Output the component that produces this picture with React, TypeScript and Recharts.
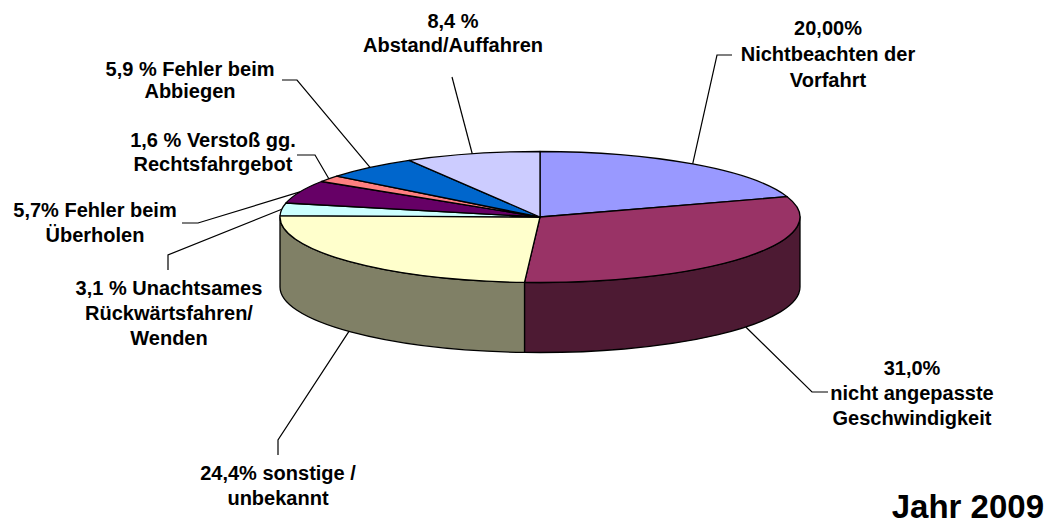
import { Cell, Pie, PieChart } from "recharts";

const categories = [
  "Nichtbeachten der Vorfahrt",
  "nicht angepasste Geschwindigkeit",
  "sonstige / unbekannt",
  "Unachtsames Rückwärtsfahren/Wenden",
  "Fehler beim Überholen",
  "Verstoß gg. Rechtsfahrgebot",
  "Fehler beim Abbiegen",
  "Abstand/Auffahren",
];
const shares = [20.0, 31.0, 24.4, 3.1, 5.7, 1.6, 5.9, 8.4];
const labelTexts = [
  ["20,00%", "Nichtbeachten der", "Vorfahrt"],
  ["31,0%", "nicht angepasste", "Geschwindigkeit"],
  ["24,4% sonstige /", "unbekannt"],
  ["3,1 % Unachtsames", "Rückwärtsfahren/", "Wenden"],
  ["5,7% Fehler beim", "Überholen"],
  ["1,6 % Verstoß gg.", "Rechtsfahrgebot"],
  ["5,9 % Fehler beim", "Abbiegen"],
  ["8,4 %", "Abstand/Auffahren"],
];
const colors = [
  "#9999FF",
  "#993366",
  "#FFFFCC",
  "#CCFFFF",
  "#660066",
  "#FF8080",
  "#0066CC",
  "#CCCCFF",
];

const data = categories.map((name, i) => ({ name, value: shares[i] }));

// layout of the pseudo-3D pie
const TILT = 0.252;
const DEPTH = 70;
const RAD = Math.PI / 180;
const FONT = "'Liberation Sans', Arial, sans-serif";

// leader line bends and text anchors, one per slice
const labelLayout = [
  { path: [[717, 55], [732, 55]], x: 828, y: 35, lh: 26 },
  { path: [[812, 392], [828, 392]], x: 912, y: 375, lh: 25 },
  { path: [[278, 440], [278, 455]], x: 278, y: 480, lh: 25 },
  { path: [[168, 255], [168, 270]], x: 169, y: 295, lh: 25 },
  { path: [[198, 223], [182, 223]], x: 95, y: 217, lh: 25 },
  { path: [[315, 155], [297, 155]], x: 213, y: 147, lh: 24 },
  { path: [[297, 80], [282, 80]], x: 190, y: 76, lh: 22 },
  { path: [[452, 77]], x: 453, y: 28, lh: 24 },
];

const darken = (hex: string) => {
  const n = parseInt(hex.slice(1), 16);
  const r = Math.round(((n >> 16) & 255) / 2);
  const g = Math.round(((n >> 8) & 255) / 2);
  const b = Math.round((n & 255) / 2);
  return `rgb(${r},${g},${b})`;
};

const point = (cx: number, cy: number, r: number, a: number, dy = 0) => [
  cx + r * Math.cos(a * RAD),
  cy - r * TILT * Math.sin(a * RAD) + dy,
];

function Slice3D(props: any) {
  const { cx, cy, outerRadius: r, startAngle, endAngle, fill } = props;
  const ry = r * TILT;
  const s = Math.max(startAngle, endAngle);
  const e = Math.min(startAngle, endAngle);
  const [x1, y1] = point(cx, cy, r, s);
  const [x2, y2] = point(cx, cy, r, e);
  const large = s - e > 180 ? 1 : 0;
  const top = `M${cx},${cy} L${x1},${y1} A${r},${ry} 0 ${large} 1 ${x2},${y2} Z`;

  const sides: string[] = [];
  for (let k = -1; k <= 1; k++) {
    const hi = Math.min(s, k * 360);
    const lo = Math.max(e, k * 360 - 180);
    if (hi - lo > 0.01) {
      const [a1, b1] = point(cx, cy, r, hi);
      const [a2, b2] = point(cx, cy, r, lo);
      sides.push(
        `M${a1},${b1} A${r},${ry} 0 0 1 ${a2},${b2} L${a2},${b2 + DEPTH} A${r},${ry} 0 0 0 ${a1},${b1 + DEPTH} Z`
      );
    }
  }

  return (
    <g>
      {sides.map((d, i) => (
        <path key={i} d={d} fill={darken(fill)} stroke="#000" strokeWidth={1.3} strokeLinejoin="round" />
      ))}
      <path d={top} fill={fill} stroke="#000" strokeWidth={1.3} strokeLinejoin="round" />
    </g>
  );
}

const renderLabel = (props: any) => {
  const { cx, cy, outerRadius: r, midAngle, index } = props;
  const front = Math.sin(midAngle * RAD) < 0;
  const start = point(cx, cy, r, midAngle, front ? DEPTH : 0);
  const lay = labelLayout[index];
  const pts = [start, ...lay.path].map((p) => p.join(",")).join(" ");
  return (
    <g key={`label-${index}`}>
      <polyline points={pts} fill="none" stroke="#000" strokeWidth={1.2} />
      <text
        x={lay.x}
        y={lay.y}
        textAnchor="middle"
        fontFamily={FONT}
        fontWeight="bold"
        fontSize={20}
        fill="#000"
      >
        {labelTexts[index].map((t, i) => (
          <tspan key={i} x={lay.x} dy={i === 0 ? 0 : lay.lh}>
            {t}
          </tspan>
        ))}
      </text>
    </g>
  );
};

export default function App() {
  return (
    <div style={{ position: "absolute", left: 0, top: 0, width: 1047, height: 524, background: "#fff" }}>
      <PieChart width={1047} height={524} margin={{ top: 0, right: 0, bottom: 0, left: 0 }}>
        <Pie
          data={data}
          dataKey="value"
          nameKey="name"
          cx={540}
          cy={217}
          outerRadius={260}
          startAngle={90}
          endAngle={-270}
          stroke="#000"
          shape={Slice3D}
          activeShape={Slice3D}
          inactiveShape={Slice3D}
          label={renderLabel}
          labelLine={false}
          isAnimationActive={false}
        >
          {data.map((d, i) => (
            <Cell key={d.name} fill={colors[i]} />
          ))}
        </Pie>
      </PieChart>
      <div
        style={{
          position: "absolute",
          right: 3,
          top: 490,
          fontFamily: FONT,
          fontWeight: "bold",
          fontSize: 33,
          lineHeight: "33px",
          color: "#000",
          whiteSpace: "nowrap",
        }}
      >
        Jahr 2009
      </div>
    </div>
  );
}
